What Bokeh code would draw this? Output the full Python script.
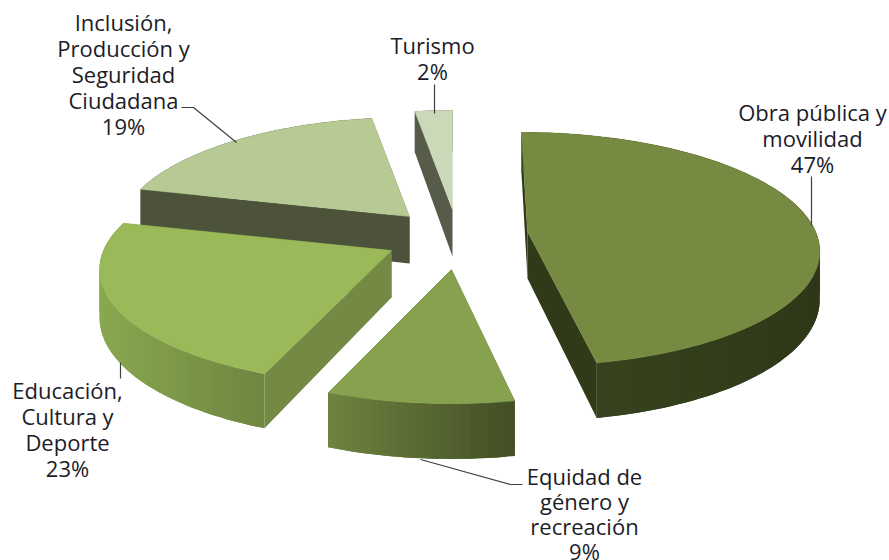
import math
from bokeh.plotting import figure
from bokeh.models import Range1d
from bokeh.embed import file_html
from bokeh.resources import INLINE
from bokeh.core.properties import value

# ---- data
categories = ["Obra pública y\nmovilidad", "Equidad de\ngénero y\nrecreación",
              "Educación,\nCultura y\nDeporte", "Inclusión,\nProducción y\nSeguridad\nCiudadana", "Turismo"]
values = [47.0, 9.0, 23.0, 18.6, 2.4]

# ---- style / layout
apex_px = [(527, 231), (451, 269), (391, 250), (409, 216), (452, 209)]
lean = [-6, 0, 4, 0, 0]
top_col = ["#768a41", "#87a24f", "#9ab958", "#b7ca94", "#ccd9b8"]
wall_l = ["#3a4720", "#6f8540", "#89a850", "#4d523a", "#565c49"]
wall_r = ["#2e3818", "#434f25", "#6e8741", "#4d523a", "#565c49"]
face_col = ["#303a19", "#434f25", "#748a44", "#4d523a", "#565c49"]
draw_order = [4, 3, 0, 1, 2]
label_pos = [(812, 111), (584, 475), (67, 389), (123, 21), (432, 44)]
line_step = [26, 25, 26, 26, 26]
leaders = [[(811, 176), (811, 225)],
           [(420, 459), (510, 484), (522, 484)],
           [(120, 362), (120, 378)],
           [(181, 107), (193, 107), (236, 142)],
           [(434, 84), (434, 113)]]
A, B, H, K = 288.0, 114.0, 47.0, 0.15
W, HT = 889, 560

p = figure(width=W, height=HT, x_range=Range1d(0, W), y_range=Range1d(HT, 0),
           output_backend="svg", toolbar_location=None, min_border=0)
p.axis.visible = False
p.grid.visible = False
p.outline_line_color = None
p.background_fill_color = "#ffffff"


def proj(ap, ln, deg, down=False):
    t = math.radians(deg)
    X, Z = math.sin(t), math.cos(t)
    s = 1.0 / (1.0 + K * Z)
    x = ap[0] + A * X * s + ln * Z
    y = ap[1] - B * Z * s
    if down:
        y += H * s
    return x, y


def mix(a, b, t):
    ca = [int(a[i:i + 2], 16) for i in (1, 3, 5)]
    cb = [int(b[i:i + 2], 16) for i in (1, 3, 5)]
    return "#%02x%02x%02x" % tuple(round(u + (v - u) * t) for u, v in zip(ca, cb))


total = sum(values)
edges = [0.0]
for v in values:
    edges.append(edges[-1] + 360.0 * v / total)

for i in draw_order:
    a0, a1, ap, ln = edges[i], edges[i + 1], apex_px[i], lean[i]
    n = max(6, int((a1 - a0) / 1.5))
    angs = [a0 + (a1 - a0) * j / n for j in range(n + 1)]
    top = [proj(ap, ln, a) for a in angs]
    bot = [proj(ap, ln, a, True) for a in angs]
    # radial faces
    for a in (a0, a1):
        t_pt, b_pt = proj(ap, ln, a), proj(ap, ln, a, True)
        p.patch([ap[0], t_pt[0], b_pt[0], ap[0]], [ap[1], t_pt[1], b_pt[1], ap[1] + H],
                fill_color=face_col[i], line_color=None)
    # outer wall as gradient strips, each one overlapping the next
    xmin, xmax = min(q[0] for q in top), max(q[0] for q in top)
    for j in range(n):
        e = min(n, j + 2)
        c = mix(wall_l[i], wall_r[i], (top[j][0] - xmin) / max(1.0, xmax - xmin))
        p.patch([q[0] for q in top[j:e + 1]] + [q[0] for q in bot[j:e + 1]][::-1],
                [q[1] for q in top[j:e + 1]] + [q[1] for q in bot[j:e + 1]][::-1],
                fill_color=c, line_color=None)
    # top surface
    p.patch([ap[0]] + [q[0] for q in top], [ap[1]] + [q[1] for q in top],
            fill_color=top_col[i], line_color=top_col[i], line_width=0.5)

for pts in leaders:
    p.line([q[0] for q in pts], [q[1] for q in pts], line_color="#404040", line_width=1.2)

for cat, v, (lx, ly), step in zip(categories, values, label_pos, line_step):
    lines = cat.split("\n") + [f"{round(v)}%"]
    p.text([lx] * len(lines), [ly + step * k for k in range(len(lines))], text=lines,
           text_font=value("Open Sans"), text_font_size="22px", text_color="#1c1c28",
           text_align="center", text_baseline="middle")

open("out.html", "w").write(file_html(p, INLINE))
